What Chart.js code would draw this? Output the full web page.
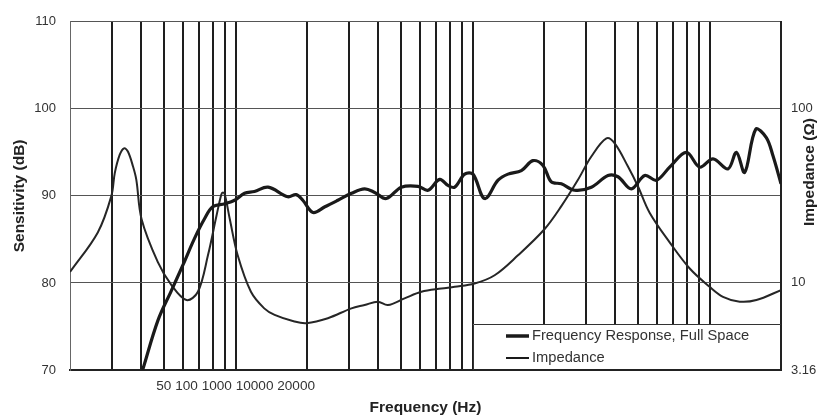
<!DOCTYPE html>
<html>
<head>
<meta charset="utf-8">
<script src="https://cdn.jsdelivr.net/npm/chart.js@4.4.0/dist/chart.umd.min.js"></script>
<style>
    html, body { margin: 0; padding: 0; background: #fff; }
    #wrap { width: 823px; height: 420px; }
</style>
</head>
<body>
<div id="wrap"><canvas id="chart" width="823" height="420"></canvas></div>
<script>
// Frequency response, full space (Hz / dB)
const frFreq = [40.5, 47, 53.5, 60, 67, 74, 80, 90, 99, 109, 120, 137, 166, 180, 192, 212, 238, 270, 308, 350,
    386, 432, 500, 588, 648, 726, 787, 840, 925, 1003, 1124, 1280, 1410, 1605, 1796, 1980, 2148, 2367, 2693, 3168,
    3724, 4103, 4672, 5321, 5960, 6780, 7977, 9078, 10330, 11950, 12970, 14050, 15640, 17340, 18500, 20000];
const frDb = [70, 75.7, 79.1, 82.1, 85.1, 87.4, 88.75, 89.1, 89.5, 90.3, 90.5, 91.0, 89.9, 90.15, 89.5, 88.1, 88.75, 89.5, 90.3, 90.8,
    90.4, 89.7, 91.0, 91.1, 90.65, 91.9, 91.2, 91.0, 92.5, 92.5, 89.7, 91.8, 92.5, 92.9, 94.05, 93.5, 91.6, 91.4, 90.65, 91.0,
    92.35, 92.2, 90.8, 92.35, 91.8, 93.3, 95.0, 93.3, 94.25, 93.1, 95.0, 92.7, 97.65, 96.7, 94.6, 91.4];

// Impedance (Hz / ohm)
const impFreq = [20, 26.2, 29.9, 30.9, 32.4, 33.8, 35.1, 36.9, 38.1, 40.1, 46.9, 53.5, 62, 69.3, 76.4, 83, 87, 88.4, 90, 94.5,
    102, 116, 132, 146, 177, 199, 245, 308, 350, 398, 439, 516, 608, 738, 840, 1019, 1238, 1553, 2013, 2367,
    2782, 3168, 3667, 3975, 4522, 4980, 5580, 6780, 8240, 10000, 11380, 13390, 15750, 20000];
const impOhm = [11.55, 19.5, 31.6, 42.7, 54.3, 59.3, 56.8, 46.6, 39.1, 23.2, 13.2, 9.74, 7.97, 8.89, 14.4, 24.3, 32.2, 33.0, 32.2, 23.2,
    14.4, 8.89, 7.14, 6.55, 6.0, 5.87, 6.27, 7.14, 7.46, 7.80, 7.46, 8.15, 8.89, 9.28, 9.49, 9.91, 11.06, 14.4, 20.4, 27.6,
    39.1, 53.2, 67.6, 63.3, 46.6, 35.9, 25.3, 17.1, 12.1, 9.49, 8.32, 7.80, 7.97, 9.09];

// Axes
const gridFreqs = [20, 30, 40, 50, 60, 70, 80, 90, 100, 200, 300, 400, 500, 600, 700, 800, 900,
    1000, 2000, 3000, 4000, 5000, 6000, 7000, 8000, 9000, 10000, 20000];
const xTickText = '50 100 1000 10000 20000';
const dbTicks = [70, 80, 90, 100, 110];
const ohmTicks = [3.16, 10, 100];
const legendLabels = ['Frequency Response, Full Space', 'Impedance'];

const FONT = '"Liberation Sans", Arial, sans-serif';

// white legend box in the lower right corner + right axis title
const overlayPlugin = {
    id: 'overlay',
    afterDatasetsDraw(chart) {
        const ctx = chart.ctx;
        const a = chart.chartArea;
        const boxL = a.right - 308;
        const boxT = a.bottom - 46;

        ctx.save();
        ctx.fillStyle = '#fff';
        ctx.fillRect(boxL, boxT, a.right - boxL - 1, a.bottom - boxT - 1);
        ctx.strokeStyle = '#333';
        ctx.lineWidth = 1;
        ctx.beginPath();
        ctx.moveTo(boxL + 0.5, a.bottom);
        ctx.lineTo(boxL + 0.5, boxT + 0.5);
        ctx.lineTo(a.right, boxT + 0.5);
        ctx.stroke();

        const widths = [3.5, 2];
        ctx.font = '14.7px ' + FONT;
        ctx.textBaseline = 'middle';
        ctx.textAlign = 'left';
        legendLabels.forEach((label, i) => {
            const y = boxT + 12 + i * 22;
            ctx.strokeStyle = '#1a1a1a';
            ctx.lineWidth = widths[i];
            ctx.beginPath();
            ctx.moveTo(boxL + 33, y);
            ctx.lineTo(boxL + 56, y);
            ctx.stroke();
            ctx.fillStyle = '#333';
            ctx.fillText(label, boxL + 59, y);
        });
        ctx.restore();

        // right axis title, reading bottom to top
        ctx.save();
        ctx.translate(810, 172);
        ctx.rotate(-Math.PI / 2);
        ctx.font = 'bold 15.5px ' + FONT;
        ctx.fillStyle = '#222';
        ctx.textAlign = 'center';
        ctx.textBaseline = 'middle';
        ctx.fillText('Impedance (\u03A9)', 0, 0);
        ctx.restore();
    }
};

const ctx = document.getElementById('chart').getContext('2d');
new Chart(ctx, {
    type: 'line',
    data: {
        datasets: [{
            label: legendLabels[0],
            data: frFreq.map((f, i) => ({ x: f, y: frDb[i] })),
            yAxisID: 'y',
            borderColor: '#1a1a1a',
            borderWidth: 3.2,
            pointRadius: 0,
            tension: 0.35,
            fill: false
        }, {
            label: legendLabels[1],
            data: impFreq.map((f, i) => ({ x: f, y: impOhm[i] })),
            yAxisID: 'y2',
            borderColor: '#262626',
            borderWidth: 2,
            pointRadius: 0,
            tension: 0.35,
            fill: false
        }]
    },
    options: {
        responsive: false,
        animation: false,
        devicePixelRatio: 1,
        layout: { padding: { top: 18, left: 0, right: 0, bottom: 0 } },
        plugins: {
            legend: { display: false },
            tooltip: { enabled: false }
        },
        scales: {
            x: {
                type: 'logarithmic',
                min: 20,
                max: 20000,
                afterBuildTicks: scale => { scale.ticks = gridFreqs.map(v => ({ value: v })); },
                afterFit: scale => { scale.height = 50; },
                ticks: {
                    autoSkip: false,
                    maxRotation: 0,
                    padding: 8,
                    color: '#333',
                    font: { family: FONT, size: 13.6 },
                    callback: v => (v === 100 ? xTickText : '')
                },
                grid: {
                    drawTicks: false,
                    color: c => (c.index === 0 ? '#666' : '#1e1e1e'),
                    lineWidth: c => (c.index === 0 ? 1 : 2)
                },
                border: { display: true, color: '#222', width: 2 },
                title: {
                    display: true,
                    text: 'Frequency (Hz)',
                    color: '#222',
                    font: { family: FONT, size: 15.5, weight: 'bold' },
                    padding: { top: 0, bottom: 3 }
                }
            },
            y: {
                type: 'linear',
                position: 'left',
                min: 70,
                max: 110,
                afterBuildTicks: scale => { scale.ticks = dbTicks.map(v => ({ value: v })); },
                afterFit: scale => { scale.width = 70; },
                ticks: {
                    padding: 14,
                    color: '#333',
                    font: { family: FONT, size: 13 }
                },
                grid: { drawTicks: false, color: '#555', lineWidth: 1 },
                border: { display: true, color: '#666', width: 1 },
                title: {
                    display: true,
                    text: 'Sensitivity (dB)',
                    color: '#222',
                    font: { family: FONT, size: 15.5, weight: 'bold' },
                    padding: { top: 10, bottom: 0 }
                }
            },
            y2: {
                type: 'logarithmic',
                position: 'right',
                min: 3.16,
                max: 316,
                afterBuildTicks: scale => { scale.ticks = ohmTicks.map(v => ({ value: v })); },
                afterFit: scale => { scale.width = 42; },
                ticks: {
                    padding: 10,
                    color: '#333',
                    font: { family: FONT, size: 13 },
                    callback: v => String(v)
                },
                grid: { display: false, drawTicks: false },
                border: { display: true, color: '#222', width: 2 }
            }
        }
    },
    plugins: [overlayPlugin]
});
</script>
</body>
</html>
